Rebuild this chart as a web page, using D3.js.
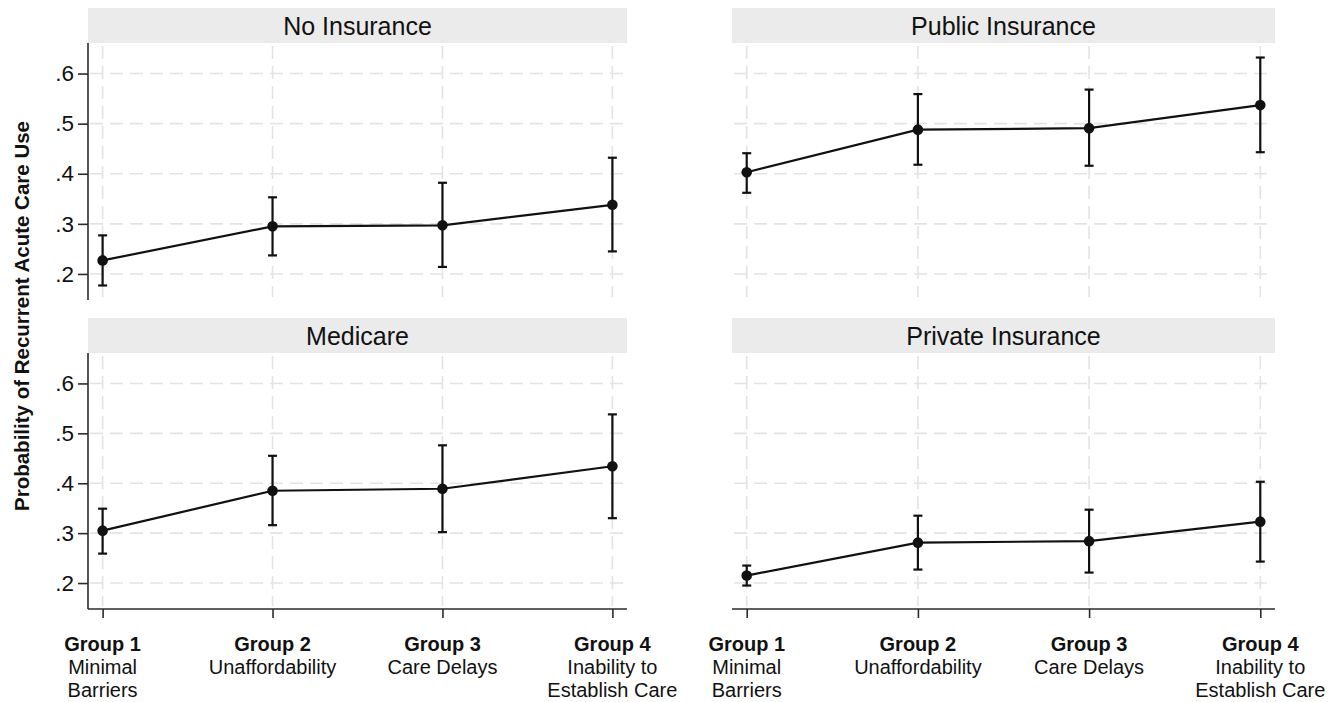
<!DOCTYPE html>
<html>
<head>
<meta charset="utf-8">
<script src="https://cdn.jsdelivr.net/npm/d3@7"></script>
<style>
  html, body { margin: 0; padding: 0; background: #fff; }
  svg { display: block; font-family: "Liberation Sans", Arial, Helvetica, sans-serif; }
</style>
</head>
<body>
<svg id="chart" width="1336" height="702"></svg>
<script>
// Panel titles, in reading order (top-left, top-right, bottom-left, bottom-right)
const panelTitles = ["No Insurance", "Public Insurance", "Medicare", "Private Insurance"];

// Category labels on the x axis
const groupCodes = ["Group 1", "Group 2", "Group 3", "Group 4"];
const groupNames = [["Minimal", "Barriers"], ["Unaffordability"], ["Care Delays"], ["Inability to", "Establish Care"]];

// Y axis ticks
const yTickValues = [0.2, 0.3, 0.4, 0.5, 0.6];
const yTickLabels = [".2", ".3", ".4", ".5", ".6"];

// Predicted probabilities and 95% CI per panel (groups 1-4)
const noInsuranceEst = [0.227, 0.295, 0.297, 0.338];
const noInsuranceLo  = [0.177, 0.237, 0.214, 0.245];
const noInsuranceHi  = [0.277, 0.353, 0.382, 0.432];

const publicEst = [0.403, 0.488, 0.491, 0.537];
const publicLo  = [0.362, 0.418, 0.416, 0.443];
const publicHi  = [0.441, 0.559, 0.568, 0.632];

const medicareEst = [0.305, 0.385, 0.389, 0.434];
const medicareLo  = [0.259, 0.316, 0.302, 0.330];
const medicareHi  = [0.349, 0.455, 0.476, 0.538];

const privateEst = [0.215, 0.281, 0.284, 0.323];
const privateLo  = [0.195, 0.227, 0.221, 0.243];
const privateHi  = [0.235, 0.335, 0.347, 0.403];

const yTitle = "Probability of Recurrent Acute Care Use";

const panelData = [
  { title: panelTitles[0], est: noInsuranceEst, lo: noInsuranceLo, hi: noInsuranceHi },
  { title: panelTitles[1], est: publicEst, lo: publicLo, hi: publicHi },
  { title: panelTitles[2], est: medicareEst, lo: medicareLo, hi: medicareHi },
  { title: panelTitles[3], est: privateEst, lo: privateLo, hi: privateHi }
];

// Layout
const colX = [[88, 627], [732, 1275]];
const rowY = [[43, 300], [353, 609]];
const stripH = 35;
const yDomain = [0.148, 0.661];
const xDomain = [0.914, 4.086];

const svg = d3.select("#chart");

const gridColor = "#e3e3e3";
const axisColor = "#2b2b2b";

panelData.forEach((p, i) => {
  const col = i % 2, row = Math.floor(i / 2);
  const [x0, x1] = colX[col];
  const [y0, y1] = rowY[row];

  const x = d3.scaleLinear().domain(xDomain).range([x0, x1]);
  const y = d3.scaleLinear().domain(yDomain).range([y1, y0]);
  const idx = [1, 2, 3, 4];

  const g = svg.append("g");

  // strip title
  g.append("rect")
    .attr("x", x0).attr("y", y0 - stripH)
    .attr("width", x1 - x0).attr("height", stripH)
    .attr("fill", "#ebebeb");
  g.append("text")
    .attr("x", (x0 + x1) / 2).attr("y", y0 - stripH / 2)
    .attr("dy", "0.36em")
    .attr("text-anchor", "middle")
    .attr("font-size", 25)
    .attr("fill", "#111")
    .text(p.title);

  // gridlines
  g.append("g").selectAll("line").data(yTickValues).join("line")
    .attr("x1", x0 + 2).attr("x2", x1 - 2)
    .attr("y1", d => y(d)).attr("y2", d => y(d))
    .attr("stroke", gridColor).attr("stroke-width", 1.6)
    .attr("stroke-dasharray", "13,7");
  g.append("g").selectAll("line").data(idx).join("line")
    .attr("x1", d => x(d)).attr("x2", d => x(d))
    .attr("y1", y0 + 3).attr("y2", y1 - 3)
    .attr("stroke", gridColor).attr("stroke-width", 1.6)
    .attr("stroke-dasharray", "13,7");

  // y axis on left column
  if (col === 0) {
    const ya = d3.axisLeft(y)
      .tickValues(yTickValues)
      .tickFormat((d, k) => yTickLabels[k])
      .tickSize(10).tickPadding(4);
    const ag = g.append("g").attr("transform", `translate(${x0},0)`).call(ya);
    ag.select(".domain").attr("d", `M0,${y0}V${y1}`).attr("stroke", axisColor).attr("stroke-width", 1.6);
    ag.selectAll(".tick line").attr("stroke", axisColor).attr("stroke-width", 1.6);
    ag.selectAll(".tick text").attr("font-size", 22.5).attr("fill", "#111")
      .attr("font-family", "'Liberation Sans', Arial, Helvetica, sans-serif");
  }

  // x axis on bottom row
  if (row === 1) {
    const xa = d3.axisBottom(x).tickValues(idx).tickFormat("").tickSize(9);
    const ag = g.append("g").attr("transform", `translate(0,${y1})`).call(xa);
    ag.select(".domain").attr("d", `M${x0},0H${x1}`).attr("stroke", axisColor).attr("stroke-width", 1.6);
    ag.selectAll(".tick line").attr("stroke", axisColor).attr("stroke-width", 1.6);

    const lab = g.append("g").selectAll("text").data(idx).join("text")
      .attr("x", d => x(d))
      .attr("y", 651)
      .attr("text-anchor", "middle")
      .attr("font-size", 20)
      .attr("fill", "#111");
    lab.append("tspan").attr("x", d => x(d)).attr("font-weight", "bold")
      .text((d, k) => groupCodes[k]);
    lab.each(function (d, k) {
      const t = d3.select(this);
      groupNames[k].forEach(line => {
        t.append("tspan").attr("x", x(d)).attr("dy", 23).text(line);
      });
    });
  }

  // error bars
  const capW = 4.5;
  const eb = g.append("g").attr("stroke", "#111").attr("stroke-width", 2.2).attr("fill", "none");
  idx.forEach((d, k) => {
    const cx = x(d);
    eb.append("line").attr("x1", cx).attr("x2", cx).attr("y1", y(p.lo[k])).attr("y2", y(p.hi[k]));
    eb.append("line").attr("x1", cx - capW).attr("x2", cx + capW).attr("y1", y(p.lo[k])).attr("y2", y(p.lo[k]));
    eb.append("line").attr("x1", cx - capW).attr("x2", cx + capW).attr("y1", y(p.hi[k])).attr("y2", y(p.hi[k]));
  });

  // connecting line
  const line = d3.line().x((d, k) => x(idx[k])).y(d => y(d));
  g.append("path").datum(p.est).attr("d", line)
    .attr("fill", "none").attr("stroke", "#111").attr("stroke-width", 2.2);

  // point estimates
  g.append("g").selectAll("circle").data(p.est).join("circle")
    .attr("cx", (d, k) => x(idx[k])).attr("cy", d => y(d))
    .attr("r", 5.3).attr("fill", "#111");
});

// shared y axis title
svg.append("text")
  .attr("transform", `translate(22,316) rotate(-90)`)
  .attr("dy", "0.35em")
  .attr("text-anchor", "middle")
  .attr("font-size", 20.5)
  .attr("font-weight", "bold")
  .attr("fill", "#111")
  .text(yTitle);
</script>
</body>
</html>
